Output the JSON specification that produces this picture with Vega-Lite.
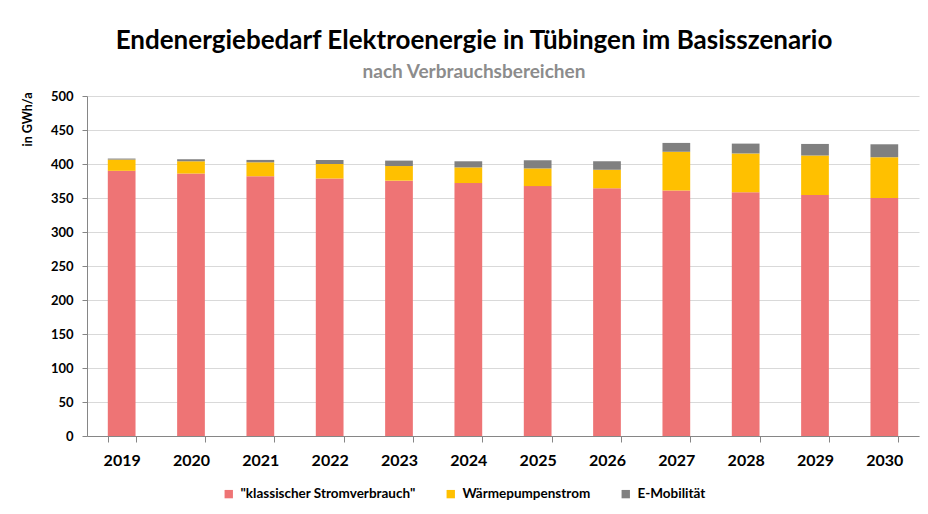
{
  "$schema": "https://vega.github.io/schema/vega-lite/v6.json",
  "width": 832,
  "height": 340,
  "autosize": {"type": "none"},
  "padding": {"left": 87, "top": 96, "right": 9, "bottom": 78},
  "background": "white",
  "config": {
    "font": "Lato",
    "view": {"stroke": null}
  },
  "title": {
    "text": "Endenergiebedarf Elektroenergie in Tübingen im Basisszenario",
    "subtitle": "nach Verbrauchsbereichen",
    "anchor": "middle",
    "dx": -29,
    "offset": 8,
    "font": "Lato",
    "fontSize": 26,
    "fontWeight": "bold",
    "color": "#000000",
    "subtitleFont": "Lato",
    "subtitleFontSize": 19,
    "subtitleFontWeight": "bold",
    "subtitleColor": "#8C8C8C",
    "subtitlePadding": 9
  },
  "data": {
    "values": [
      {"Jahr": "2019", "Bereich": "\"klassischer Stromverbrauch\"", "Nr": 1, "Wert": 390},
      {"Jahr": "2019", "Bereich": "Wärmepumpenstrom", "Nr": 2, "Wert": 16.5},
      {"Jahr": "2019", "Bereich": "E-Mobilität", "Nr": 3, "Wert": 1.5},
      {"Jahr": "2020", "Bereich": "\"klassischer Stromverbrauch\"", "Nr": 1, "Wert": 386},
      {"Jahr": "2020", "Bereich": "Wärmepumpenstrom", "Nr": 2, "Wert": 18},
      {"Jahr": "2020", "Bereich": "E-Mobilität", "Nr": 3, "Wert": 3},
      {"Jahr": "2021", "Bereich": "\"klassischer Stromverbrauch\"", "Nr": 1, "Wert": 382},
      {"Jahr": "2021", "Bereich": "Wärmepumpenstrom", "Nr": 2, "Wert": 20.5},
      {"Jahr": "2021", "Bereich": "E-Mobilität", "Nr": 3, "Wert": 3.5},
      {"Jahr": "2022", "Bereich": "\"klassischer Stromverbrauch\"", "Nr": 1, "Wert": 378.5},
      {"Jahr": "2022", "Bereich": "Wärmepumpenstrom", "Nr": 2, "Wert": 21.5},
      {"Jahr": "2022", "Bereich": "E-Mobilität", "Nr": 3, "Wert": 6},
      {"Jahr": "2023", "Bereich": "\"klassischer Stromverbrauch\"", "Nr": 1, "Wert": 375.5},
      {"Jahr": "2023", "Bereich": "Wärmepumpenstrom", "Nr": 2, "Wert": 21.5},
      {"Jahr": "2023", "Bereich": "E-Mobilität", "Nr": 3, "Wert": 8},
      {"Jahr": "2024", "Bereich": "\"klassischer Stromverbrauch\"", "Nr": 1, "Wert": 372},
      {"Jahr": "2024", "Bereich": "Wärmepumpenstrom", "Nr": 2, "Wert": 23},
      {"Jahr": "2024", "Bereich": "E-Mobilität", "Nr": 3, "Wert": 9},
      {"Jahr": "2025", "Bereich": "\"klassischer Stromverbrauch\"", "Nr": 1, "Wert": 367.5},
      {"Jahr": "2025", "Bereich": "Wärmepumpenstrom", "Nr": 2, "Wert": 26},
      {"Jahr": "2025", "Bereich": "E-Mobilität", "Nr": 3, "Wert": 12},
      {"Jahr": "2026", "Bereich": "\"klassischer Stromverbrauch\"", "Nr": 1, "Wert": 364.5},
      {"Jahr": "2026", "Bereich": "Wärmepumpenstrom", "Nr": 2, "Wert": 27},
      {"Jahr": "2026", "Bereich": "E-Mobilität", "Nr": 3, "Wert": 12.5},
      {"Jahr": "2027", "Bereich": "\"klassischer Stromverbrauch\"", "Nr": 1, "Wert": 361},
      {"Jahr": "2027", "Bereich": "Wärmepumpenstrom", "Nr": 2, "Wert": 57},
      {"Jahr": "2027", "Bereich": "E-Mobilität", "Nr": 3, "Wert": 13},
      {"Jahr": "2028", "Bereich": "\"klassischer Stromverbrauch\"", "Nr": 1, "Wert": 358.5},
      {"Jahr": "2028", "Bereich": "Wärmepumpenstrom", "Nr": 2, "Wert": 57},
      {"Jahr": "2028", "Bereich": "E-Mobilität", "Nr": 3, "Wert": 14.5},
      {"Jahr": "2029", "Bereich": "\"klassischer Stromverbrauch\"", "Nr": 1, "Wert": 354.5},
      {"Jahr": "2029", "Bereich": "Wärmepumpenstrom", "Nr": 2, "Wert": 58},
      {"Jahr": "2029", "Bereich": "E-Mobilität", "Nr": 3, "Wert": 17},
      {"Jahr": "2030", "Bereich": "\"klassischer Stromverbrauch\"", "Nr": 1, "Wert": 350},
      {"Jahr": "2030", "Bereich": "Wärmepumpenstrom", "Nr": 2, "Wert": 60},
      {"Jahr": "2030", "Bereich": "E-Mobilität", "Nr": 3, "Wert": 19}
    ]
  },
  "mark": {"type": "bar"},
  "encoding": {
    "x": {
      "field": "Jahr",
      "type": "nominal",
      "scale": {"paddingInner": 0.6, "paddingOuter": 0.3},
      "axis": {
        "title": null,
        "labelAngle": 0,
        "labelFont": "Lato",
        "labelFontSize": 16,
        "labelFontWeight": "bold",
        "labelColor": "#000000",
        "labelPadding": 10,
        "tickBand": "extent",
        "tickSize": 6,
        "tickColor": "#868686",
        "domainColor": "#868686",
        "grid": false
      }
    },
    "y": {
      "field": "Wert",
      "type": "quantitative",
      "stack": "zero",
      "scale": {"domain": [0, 500], "nice": false},
      "axis": {
        "title": "in GWh/a",
        "titleFont": "Lato",
        "titleFontSize": 12.5,
        "titleFontWeight": "bold",
        "titleColor": "#000000",
        "titleAngle": -90,
        "titleAlign": "right",
        "titleBaseline": "middle",
        "titleX": -60,
        "titleY": -4,
        "values": [0, 50, 100, 150, 200, 250, 300, 350, 400, 450, 500],
        "labelFont": "Lato",
        "labelFontSize": 13,
        "labelFontWeight": "bold",
        "labelColor": "#000000",
        "labelPadding": 9,
        "tickSize": 5,
        "tickColor": "#868686",
        "domainColor": "#868686",
        "gridColor": "#D9D9D9",
        "gridWidth": 1
      }
    },
    "order": {"field": "Nr", "type": "quantitative", "sort": "ascending"},
    "color": {
      "field": "Bereich",
      "type": "nominal",
      "sort": ["\"klassischer Stromverbrauch\"", "Wärmepumpenstrom", "E-Mobilität"],
      "scale": {
        "domain": ["\"klassischer Stromverbrauch\"", "Wärmepumpenstrom", "E-Mobilität"],
        "range": ["#EE7475", "#FFC000", "#808080"]
      },
      "legend": {
        "title": null,
        "orient": "none",
        "direction": "horizontal",
        "legendX": 135,
        "legendY": 391,
        "symbolType": "square",
        "symbolSize": 70,
        "symbolStrokeWidth": 0,
        "labelFont": "Lato",
        "labelFontSize": 13.5,
        "labelFontWeight": "bold",
        "labelColor": "#000000",
        "labelOffset": 5,
        "labelLimit": 0,
        "columnPadding": 28,
        "padding": 0
      }
    }
  }
}
